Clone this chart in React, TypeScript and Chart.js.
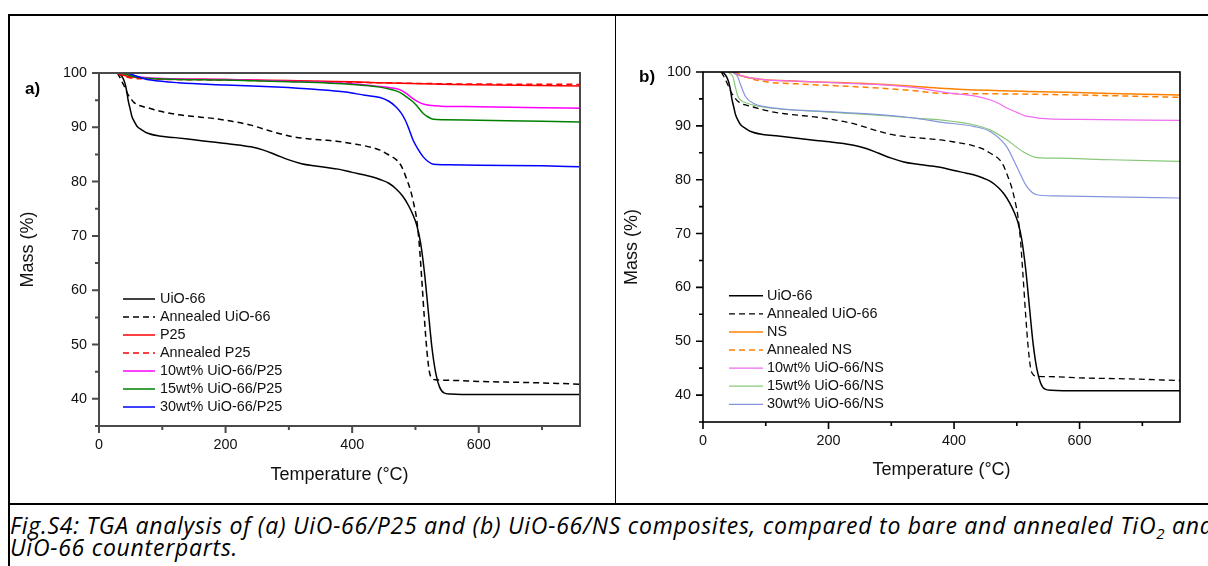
import React, { useEffect, useRef } from "react";
import { Chart, registerables } from "chart.js";

Chart.register(...registerables);

const FONT = "'Liberation Sans', Arial, Helvetica, sans-serif";

// Axis ranges and tick spacing
const tempMin = 0;
const tempMax = 760;
const tempTickStep = 100;
const tempLabelStep = 200;
const massMin = 35;
const massMax = 100;
const massTickStep = 5;
const massLabelStep = 10;

// Bare and annealed UiO-66 (same runs shown in both panels)
const uioTemp = [30, 33, 38, 41, 44, 46, 49, 52, 56, 60, 68, 75, 95, 120, 150, 180, 210, 240, 260, 280, 300, 320, 340, 360, 378, 400, 420, 431, 444, 458, 470, 480, 489, 496, 502, 508, 514, 520, 526, 532, 538, 545, 555, 600, 760];
const uioMass = [100, 99.8, 99.0, 98.1, 96.5, 95.0, 93.5, 92.0, 91.0, 90.2, 89.5, 89.0, 88.4, 88.1, 87.7, 87.3, 86.9, 86.4, 85.8, 84.9, 84.0, 83.3, 82.9, 82.6, 82.3, 81.7, 81.2, 80.9, 80.4, 79.7, 78.6, 77.3, 75.6, 73.9, 72.0, 68.8, 63.5, 56.5, 49.5, 44.8, 42.2, 41.1, 40.9, 40.8, 40.8];
const uioAnnTemp = [29, 33, 38, 41, 45, 49, 52, 55, 60, 70, 80, 95, 126, 150, 182, 210, 240, 260, 280, 300, 330, 360, 378, 400, 431, 444, 458, 470, 478, 486, 492, 497, 502, 506, 510, 514, 518, 522, 526, 532, 560, 600, 680, 760];
const uioAnnMass = [100, 99.2, 98.0, 97.3, 96.2, 95.5, 95.0, 94.6, 94.2, 93.8, 93.5, 93.0, 92.3, 92.0, 91.6, 91.1, 90.4, 89.7, 89.0, 88.4, 87.9, 87.6, 87.4, 87.0, 86.3, 85.8, 84.9, 84.0, 82.8, 80.5, 78.5, 76.1, 73.0, 68.5, 62.0, 55.0, 49.0, 45.0, 43.8, 43.5, 43.4, 43.2, 43.0, 42.7];

// Panel a: P25 series
const p25Temp = [29, 45, 80, 200, 300, 400, 444, 560, 760];
const p25Mass = [100, 99.4, 99.0, 98.8, 98.6, 98.4, 98.2, 97.9, 97.6];
const p25AnnMass = [100, 99.2, 98.9, 98.7, 98.5, 98.3, 98.2, 98.0, 97.9];
const p25w10Temp = [35, 60, 100, 200, 300, 400, 444, 460, 476, 486, 496, 506, 515, 525, 540, 600, 700, 760];
const p25w10Mass = [100, 99.3, 99.0, 98.8, 98.5, 98.0, 97.5, 97.3, 96.9, 96.2, 95.3, 94.6, 94.2, 94.0, 93.9, 93.8, 93.6, 93.5];
const p25w15Temp = [35, 60, 100, 200, 300, 400, 444, 460, 476, 486, 496, 504, 512, 520, 528, 545, 600, 700, 760];
const p25w15Mass = [100, 99.2, 98.9, 98.7, 98.4, 97.9, 97.4, 97.0, 96.4, 95.6, 94.7, 93.7, 92.6, 91.9, 91.5, 91.4, 91.3, 91.1, 91.0];
const p25w30Temp = [45, 55, 70, 82, 126, 200, 281, 340, 390, 420, 444, 458, 469, 477, 484, 490, 496, 504, 512, 520, 528, 545, 600, 700, 760];
const p25w30Mass = [100, 99.6, 99.0, 98.7, 98.2, 97.8, 97.4, 97.0, 96.5, 95.9, 95.5, 94.8, 93.8, 92.7, 91.3, 89.6, 87.7, 86.0, 84.6, 83.7, 83.2, 83.1, 83.0, 82.9, 82.75];

// Panel b: NS series
const nsTemp = [46, 60, 96, 150, 250, 330, 378, 454, 537, 650, 760];
const nsMass = [100, 99.3, 98.6, 98.3, 97.9, 97.4, 97.0, 96.6, 96.35, 96.0, 95.73];
const nsAnnTemp = [50, 70, 102, 150, 220, 269, 330, 378, 454, 537, 650, 760];
const nsAnnMass = [100, 99.0, 98.15, 97.8, 97.4, 97.1, 96.6, 96.05, 95.95, 95.85, 95.6, 95.3];
const nsW10Temp = [46, 65, 96, 150, 250, 300, 350, 378, 400, 430, 458, 472, 484, 500, 512, 521, 537, 600, 760];
const nsW10Mass = [100, 99.2, 98.6, 98.3, 97.8, 97.5, 96.9, 96.35, 96.0, 95.6, 94.8, 94.1, 93.3, 92.5, 91.9, 91.7, 91.4, 91.2, 91.0];
const nsW15Temp = [40, 48, 52, 56, 71, 96, 207, 290, 340, 378, 431, 458, 484, 510, 532, 560, 650, 760];
const nsW15Mass = [100, 99.0, 97.0, 95.4, 94.2, 93.5, 92.5, 91.9, 91.4, 91.1, 90.2, 89.2, 87.4, 85.2, 84.1, 84.0, 83.7, 83.4];
const nsW30Temp = [48, 55, 59, 68, 80, 96, 207, 290, 340, 378, 431, 458, 484, 500, 516, 532, 560, 650, 760];
const nsW30Mass = [100, 99.2, 97.9, 95.4, 94.2, 93.6, 92.6, 92.0, 91.4, 90.7, 89.9, 88.9, 86.1, 82.4, 78.7, 77.2, 77.0, 76.8, 76.6];

const labelsA = ["UiO-66", "Annealed UiO-66", "P25", "Annealed P25", "10wt% UiO-66/P25", "15wt% UiO-66/P25", "30wt% UiO-66/P25"];
const labelsB = ["UiO-66", "Annealed UiO-66", "NS", "Annealed NS", "10wt% UiO-66/NS", "15wt% UiO-66/NS", "30wt% UiO-66/NS"];

const DASH = [6, 4];

function series(label: string, temps: number[], masses: number[], color: string, width: number, dash: number[] = []) {
  return {
    label,
    data: temps.map((t, i) => ({ x: t, y: masses[i] })),
    borderColor: color,
    backgroundColor: color,
    borderWidth: width,
    borderDash: dash,
    pointRadius: 0,
    fill: false,
    cubicInterpolationMode: "monotone" as const,
  };
}

const datasetsA = [
  series(labelsA[0], uioTemp, uioMass, "#000000", 1.5),
  series(labelsA[1], uioAnnTemp, uioAnnMass, "#000000", 1.5, DASH),
  series(labelsA[2], p25Temp, p25Mass, "#ff0000", 1.5),
  series(labelsA[3], p25Temp, p25AnnMass, "#ff0000", 1.5, DASH),
  series(labelsA[4], p25w10Temp, p25w10Mass, "#ff00ff", 1.5),
  series(labelsA[5], p25w15Temp, p25w15Mass, "#008000", 1.5),
  series(labelsA[6], p25w30Temp, p25w30Mass, "#0000ff", 1.5),
];

const datasetsB = [
  series(labelsB[0], uioTemp, uioMass, "#000000", 1.5),
  series(labelsB[1], uioAnnTemp, uioAnnMass, "#000000", 1.3, DASH),
  series(labelsB[2], nsTemp, nsMass, "#ff8000", 1.5),
  series(labelsB[3], nsAnnTemp, nsAnnMass, "#ff8000", 1.5, DASH),
  series(labelsB[4], nsW10Temp, nsW10Mass, "#f06cf0", 1.2),
  series(labelsB[5], nsW15Temp, nsW15Mass, "#88c878", 1.2),
  series(labelsB[6], nsW30Temp, nsW30Mass, "#8494dc", 1.2),
];

// Frame, outward tick marks and the in-plot legend
const panelDecor = {
  id: "panelDecor",
  afterDraw(chart: any, _args: any, opts: any) {
    const { ctx, chartArea: a, scales } = chart;
    const xs = scales.x;
    const ys = scales.y;
    ctx.save();
    ctx.setLineDash([]);
    ctx.strokeStyle = opts.axisColor;
    ctx.lineWidth = opts.axisWidth;
    ctx.strokeRect(a.left, a.top, a.right - a.left, a.bottom - a.top);
    ctx.beginPath();
    xs.ticks.forEach((t: any) => {
      const px = xs.getPixelForValue(t.value);
      const len = t.value % tempLabelStep === 0 ? 7 : 4;
      ctx.moveTo(px, a.bottom);
      ctx.lineTo(px, a.bottom + len);
    });
    ys.ticks.forEach((t: any) => {
      const py = ys.getPixelForValue(t.value);
      const len = t.value % massLabelStep === 0 ? 7 : 4;
      ctx.moveTo(a.left, py);
      ctx.lineTo(a.left - len, py);
    });
    ctx.stroke();

    const lg = opts.legend;
    ctx.font = `${lg.fontSize}px ${FONT}`;
    ctx.textBaseline = "middle";
    ctx.textAlign = "left";
    chart.data.datasets.forEach((ds: any, i: number) => {
      const y = a.top + lg.top + i * lg.gap;
      ctx.strokeStyle = ds.borderColor;
      ctx.lineWidth = ds.borderWidth;
      ctx.setLineDash(ds.borderDash || []);
      ctx.beginPath();
      ctx.moveTo(a.left + lg.lineStart, y);
      ctx.lineTo(a.left + lg.lineEnd, y);
      ctx.stroke();
      ctx.setLineDash([]);
      ctx.fillStyle = "#111";
      ctx.fillText(ds.label, a.left + lg.textX, y);
    });
    ctx.restore();
  },
};

type PanelSpec = {
  datasets: any[];
  width: number;
  height: number;
  padTop: number;
  padRight: number;
  yAxisWidth: number;
  xAxisHeight: number;
  yTitlePad: number;
  xTitlePad: number;
  axisColor: string;
  axisWidth: number;
  legend: { top: number; gap: number; lineStart: number; lineEnd: number; textX: number; fontSize: number };
};

function makeConfig(spec: PanelSpec): any {
  const tickFont = { family: FONT, size: 14.4 };
  const titleFont = { family: FONT, size: 18 };
  const noGrid = { display: false, drawTicks: false, tickLength: 0 };
  return {
    type: "line",
    data: { datasets: spec.datasets.map((d, i) => ({ ...d, order: spec.datasets.length - i })) },
    plugins: [panelDecor],
    options: {
      responsive: false,
      maintainAspectRatio: false,
      animation: false,
      devicePixelRatio: 1,
      events: [],
      layout: { padding: { top: spec.padTop, right: spec.padRight, bottom: 0, left: 0 } },
      plugins: {
        legend: { display: false },
        tooltip: { enabled: false },
        panelDecor: { axisColor: spec.axisColor, axisWidth: spec.axisWidth, legend: spec.legend },
      },
      scales: {
        x: {
          type: "linear",
          min: tempMin,
          max: tempMax,
          grid: noGrid,
          border: { display: false },
          ticks: {
            stepSize: tempTickStep,
            includeBounds: false,
            autoSkip: false,
            maxRotation: 0,
            padding: 10,
            color: "#111",
            font: tickFont,
            callback: (v: number) => (v % tempLabelStep === 0 ? String(v) : ""),
          },
          title: { display: true, text: "Temperature (°C)", color: "#111", font: titleFont, padding: { top: 0, bottom: spec.xTitlePad } },
          afterFit: (s: any) => { s.height = spec.xAxisHeight; },
        },
        y: {
          type: "linear",
          min: massMin,
          max: massMax,
          grid: noGrid,
          border: { display: false },
          ticks: {
            stepSize: massTickStep,
            autoSkip: false,
            padding: 12,
            color: "#111",
            font: tickFont,
            callback: (v: number) => (v % massLabelStep === 0 ? String(v) : ""),
          },
          title: { display: true, text: "Mass (%)", color: "#111", font: titleFont, padding: { top: spec.yTitlePad, bottom: 0 } },
          afterFit: (s: any) => { s.width = spec.yAxisWidth; },
        },
      },
    },
  };
}

function Panel({ spec, left, top }: { spec: PanelSpec; left: number; top: number }) {
  const ref = useRef<HTMLCanvasElement>(null);
  useEffect(() => {
    const chart = new Chart(ref.current as HTMLCanvasElement, makeConfig(spec));
    return () => chart.destroy();
  }, [spec]);
  return (
    <canvas
      ref={ref}
      width={spec.width}
      height={spec.height}
      style={{ position: "absolute", left, top, width: spec.width, height: spec.height }}
    />
  );
}

const specA: PanelSpec = {
  datasets: datasetsA,
  width: 604,
  height: 486,
  padTop: 56,
  padRight: 34,
  yAxisWidth: 89,
  xAxisHeight: 77,
  yTitlePad: 7.2,
  xTitlePad: 17.2,
  axisColor: "#4a4a4a",
  axisWidth: 2,
  legend: { top: 226, gap: 18, lineStart: 24, lineEnd: 56, textX: 61, fontSize: 14.4 },
};

const specB: PanelSpec = {
  datasets: datasetsB,
  width: 591,
  height: 486,
  padTop: 55,
  padRight: 28,
  yAxisWidth: 86,
  xAxisHeight: 81,
  yTitlePad: 4.2,
  xTitlePad: 22.2,
  axisColor: "#000000",
  axisWidth: 1.6,
  legend: { top: 223.7, gap: 18.1, lineStart: 26, lineEnd: 60, textX: 64, fontSize: 14.4 },
};

const rule = (s: React.CSSProperties): React.CSSProperties => ({ position: "absolute", background: "#000", ...s });

export default function App() {
  return (
    <div style={{ position: "fixed", left: 0, top: 0, width: 1208, height: 566, overflow: "hidden", background: "#fff" }}>
      <div style={rule({ left: 8, top: 14, width: 1200, height: 2 })} />
      <div style={rule({ left: 8, top: 14, width: 2, height: 552 })} />
      <div style={rule({ left: 615, top: 14, width: 1, height: 490 })} />
      <div style={rule({ left: 8, top: 503, width: 1200, height: 2 })} />

      <Panel spec={specA} left={10} top={17} />
      <Panel spec={specB} left={617} top={17} />

      <div style={{ position: "absolute", left: 25, top: 80, font: `bold 17px ${FONT}`, lineHeight: "18px" }}>a)</div>
      <div style={{ position: "absolute", left: 639, top: 68, font: `bold 17px ${FONT}`, lineHeight: "18px" }}>b)</div>

      <div
        style={{
          position: "absolute",
          left: 10,
          top: 514,
          fontFamily: "'Open Sans', Lato, sans-serif",
          fontStyle: "italic",
          fontSize: 23,
          letterSpacing: 0.75,
          lineHeight: "22px",
          whiteSpace: "nowrap",
          color: "#000",
        }}
      >
        Fig.S4: TGA analysis of (a) UiO-66/P25 and (b) UiO-66/NS composites, compared to bare and annealed TiO
        <span style={{ fontSize: 15, position: "relative", top: 5, lineHeight: 0 }}>2</span> and
        <br />
        UiO-66 counterparts.
      </div>
    </div>
  );
}
